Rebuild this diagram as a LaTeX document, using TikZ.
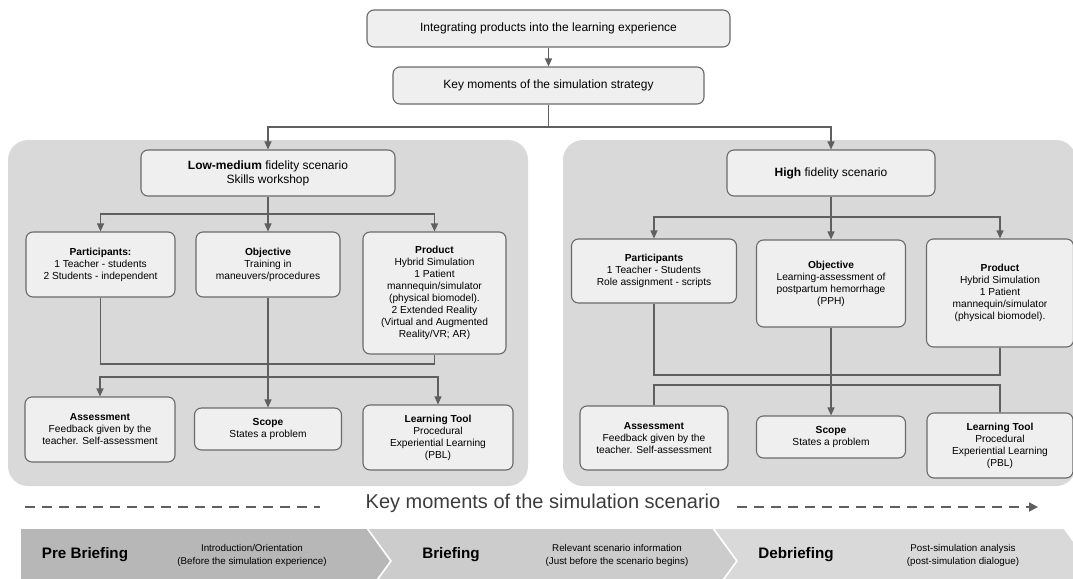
\documentclass[tikz,border=0pt]{standalone}
\usepackage{fontspec}
\setmainfont{Liberation Sans}
\usetikzlibrary{positioning, arrows.meta}
\definecolor{panelgray}{HTML}{D9D9D9}
\definecolor{boxfill}{HTML}{EFEFEF}
\definecolor{edgegray}{HTML}{6A6A6A}
\definecolor{linkgray}{HTML}{5F5F5F}
\definecolor{chevA}{HTML}{B7B7B7}
\definecolor{chevB}{HTML}{CCCCCC}
\definecolor{chevC}{HTML}{D9D9D9}
\definecolor{captiongray}{HTML}{3C3C3C}
\tikzset{
  box/.style={draw=edgegray, fill=boxfill, line width=1.1pt, rounded corners=7pt,
    align=center, inner sep=2pt, font=\fontsize{10.2}{12}\selectfont},
  bigbox/.style={box, font=\fontsize{12}{14}\selectfont},
  panel/.style={fill=panelgray, rounded corners=20pt},
  link/.style={draw=linkgray, line width=1.2pt},
  arr/.style={link, -{Triangle[length=8pt,width=7pt]}},
  dashline/.style={draw=linkgray, line width=1.8pt, dash pattern=on 10pt off 7pt},
  chevron/.style={draw=white, line width=1.5pt},
  phase/.style={font=\fontsize{15.2}{18}\selectfont\bfseries},
  phasenote/.style={align=center, font=\fontsize{9.8}{13}\selectfont},
}

\begin{document}
\begin{tikzpicture}[x=1pt, y=-1pt]
    \useasboundingbox (0,0) rectangle (1073,578);
    \clip (0,0) rectangle (1073,578);

    \fill[panel] (8,140) rectangle (528,486);
    \fill[panel] (563,140) rectangle (1076,486);

    \node[bigbox, minimum width=363pt, minimum height=37pt] (intg) at (548.5,28.5) {Integrating products into the learning experience};
    \node[bigbox, minimum width=311pt, minimum height=37pt] (keym) at (548.5,85.5) {Key moments of the simulation strategy};
    \node[bigbox, minimum width=254pt, minimum height=46pt] (low) at (268,173) {\textbf{Low-medium} fidelity scenario\\Skills workshop};
    \node[bigbox, minimum width=208pt, minimum height=46pt] (high) at (831,173) {\textbf{High} fidelity scenario};

    \node[box, minimum width=149pt, minimum height=65pt] (lpart) at (100.5,264.5) {\textbf{Participants:}\\1 Teacher - students\\2 Students - independent};
    \node[box, minimum width=144pt, minimum height=65pt] (lobj) at (268,264.5) {\textbf{Objective}\\Training in\\maneuvers/procedures};
    \node[box, minimum width=143pt, minimum height=122pt] (lprod) at (434.5,293) {\textbf{Product}\\Hybrid Simulation\\1 Patient\\mannequin/simulator\\(physical biomodel).\\2 Extended Reality\\(Virtual and Augmented\\Reality/VR; AR)};
    \node[box, minimum width=150pt, minimum height=65pt] (lass) at (100,429.5) {\textbf{Assessment}\\Feedback given by the\\teacher. Self-assessment};
    \node[box, minimum width=147pt, minimum height=42pt] (lscope) at (268,429) {\textbf{Scope}\\States a problem};
    \node[box, minimum width=150pt, minimum height=65pt] (ltool) at (438,437.5) {\textbf{Learning Tool}\\Procedural\\Experiential Learning\\(PBL)};

    \node[box, minimum width=165pt, minimum height=64pt] (rpart) at (654,271) {\textbf{Participants}\\1 Teacher - Students\\Role assignment - scripts};
    \node[box, minimum width=149pt, minimum height=87pt] (robj) at (831,283.5) {\textbf{Objective}\\Learning-assessment of\\postpartum hemorrhage\\(PPH)};
    \node[box, minimum width=147pt, minimum height=108pt] (rprod) at (1000,293) {\textbf{Product}\\Hybrid Simulation\\1 Patient\\mannequin/simulator\\(physical biomodel).};
    \node[box, minimum width=148pt, minimum height=64pt] (rass) at (654,438) {\textbf{Assessment}\\Feedback given by the\\teacher. Self-assessment};
    \node[box, minimum width=149pt, minimum height=42pt] (rscope) at (831,437) {\textbf{Scope}\\States a problem};
    \node[box, minimum width=146pt, minimum height=65pt] (rtool) at (1000,445.5) {\textbf{Learning Tool}\\Procedural\\Experiential Learning\\(PBL)};

    \coordinate (kjoin) at (548.5,127);
    \draw[arr] (intg.south) -- (keym.north);
    \draw[link] (keym.south) -- (kjoin);
    \draw[arr] (kjoin) -| (low.north);
    \draw[arr] (kjoin) -| (high.north);

    \coordinate (lfork) at (268,214);
    \coordinate (lbar) at (268,364);
    \coordinate (lsplit) at (268,377);
    \draw[link] (low.south) -- (lfork);
    \foreach \n in {lpart,lobj,lprod}
        \draw[arr] (lfork) -| (\n.north);
    \draw[link] (lpart.south) |- (lbar) -| (lprod.south);
    \draw[arr] (lobj.south) -- (lscope.north);
    \draw[arr] (lsplit) -| (lass.north);
    \draw[arr] (lsplit) -| (ltool.north);

    \coordinate (rfork) at (831,217);
    \coordinate (rbar) at (831,375);
    \coordinate (rsplit) at (831,385);
    \draw[link] (high.south) -- (rfork);
    \foreach \n in {rpart,robj,rprod}
        \draw[arr] (rfork) -| (\n.north);
    \draw[link] (rpart.south) |- (rbar) -| (rprod.south);
    \draw[arr] (robj.south) -- (rscope.north);
    \draw[link] (rsplit) -| (rass.north);
    \draw[link] (rsplit) -| (rtool.north);

    \node[font=\fontsize{20}{23}\selectfont, text=captiongray] (kscen) at (543,503) {Key moments of the simulation scenario};
    \coordinate (dA) at (25,507);
    \coordinate (dB) at (320,507);
    \coordinate (dC) at (737,507);
    \coordinate (dD) at (1038,507);
    \draw[dashline] (dA) -- (dB);
    \draw[dashline, -{Triangle[length=9pt,width=9pt]}] (dC) -- (dD);

    \filldraw[chevron, fill=chevA] (20,528) -- (367,528) -- (391,561) -- (367,594) -- (20,594) -- cycle;
    \filldraw[chevron, fill=chevB] (367,528) -- (713,528) -- (737,561) -- (713,594) -- (367,594) -- (391,561) -- cycle;
    \filldraw[chevron, fill=chevC] (713,528) -- (1064,528) -- (1088,561) -- (1064,594) -- (713,594) -- (737,561) -- cycle;

    \node[phase] (pre) at (85,555) {Pre Briefing};
    \node[phasenote] (prenote) at (252,555.5) {Introduction/Orientation\\(Before the simulation experience)};
    \node[phase] (brief) at (451,555) {Briefing};
    \node[phasenote] (briefnote) at (617,555.5) {Relevant scenario information\\(Just before the scenario begins)};
    \node[phase] (debrief) at (796,555) {Debriefing};
    \node[phasenote] (debriefnote) at (963,555.5) {Post-simulation analysis\\(post-simulation dialogue)};
\end{tikzpicture}
\end{document}
